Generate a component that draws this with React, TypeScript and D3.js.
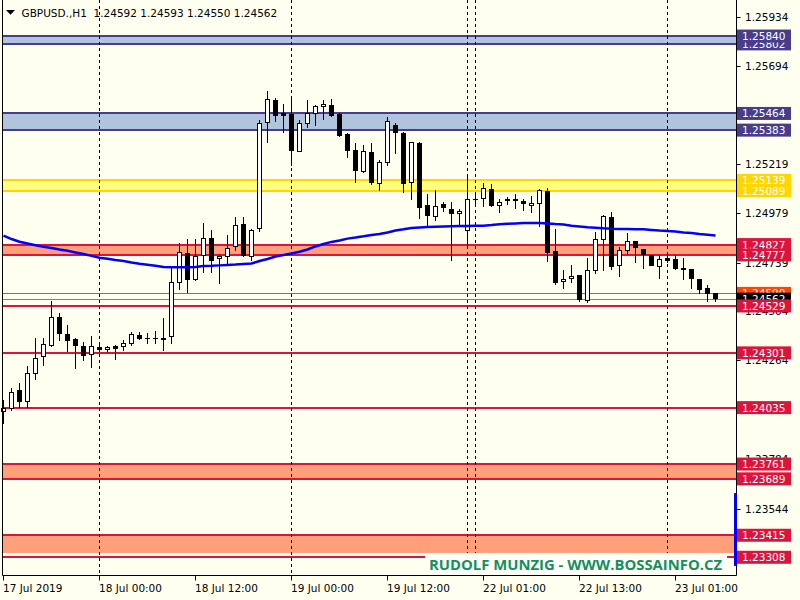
import React from 'react'
import * as d3 from 'd3'

const symbol = 'GBPUSD.,H1'

// hourly bars, 17 Jul 12:00 .. 23 Jul 06:00
const opens = [
  1.24015, 1.24027, 1.24119, 1.24064, 1.24197, 1.24279, 1.24334, 1.24474, 1.24391, 1.24368,
  1.24333, 1.24292, 1.24329, 1.24316, 1.24334, 1.24328, 1.24343, 1.24386, 1.24373, 1.24373,
  1.24362, 1.24377, 1.24639, 1.24785, 1.24655, 1.24773, 1.24858, 1.24756, 1.24765, 1.24814,
  1.24926, 1.24768, 1.24901, 1.25419, 1.25529, 1.25465, 1.25463, 1.25278, 1.25411, 1.25460,
  1.25494, 1.25505, 1.25461, 1.25364, 1.25286, 1.25181, 1.25277, 1.25123, 1.25222, 1.25408,
  1.25370, 1.25128, 1.25319, 1.25018, 1.24962, 1.25023, 1.25000, 1.24974, 1.24894, 1.25048,
  1.25047, 1.25096, 1.25016, 1.25048, 1.25048, 1.25039, 1.25016, 1.25023, 1.25087, 1.24796,
  1.24644, 1.24658, 1.24678, 1.24554, 1.24700, 1.24849, 1.24960, 1.24724, 1.24797, 1.24843,
  1.24804, 1.24776, 1.24720, 1.24760, 1.24756, 1.24713, 1.24708, 1.24660, 1.24615, 1.24592,
]
const highs = [
  1.24072, 1.24129, 1.24153, 1.24239, 1.24375, 1.24375, 1.24553, 1.24493, 1.24435, 1.24372,
  1.24352, 1.24384, 1.24344, 1.24334, 1.24339, 1.24363, 1.24402, 1.24402, 1.24396, 1.24406,
  1.24470, 1.24712, 1.24833, 1.24853, 1.24853, 1.24930, 1.24898, 1.24780, 1.24874, 1.24962,
  1.24962, 1.24904, 1.25432, 1.25573, 1.25538, 1.25510, 1.25549, 1.25432, 1.25529, 1.25505,
  1.25529, 1.25534, 1.25465, 1.25370, 1.25322, 1.25311, 1.25319, 1.25238, 1.25447, 1.25416,
  1.25375, 1.25324, 1.25324, 1.25071, 1.25092, 1.25035, 1.25032, 1.25000, 1.25160, 1.25078,
  1.25125, 1.25121, 1.25050, 1.25057, 1.25073, 1.25050, 1.25063, 1.25096, 1.25100, 1.24901,
  1.24704, 1.24728, 1.24678, 1.24760, 1.24890, 1.24971, 1.24985, 1.24817, 1.24882, 1.24843,
  1.24804, 1.24776, 1.24776, 1.24776, 1.24776, 1.24760, 1.24708, 1.24660, 1.24631, 1.24593,
]
const lows = [
  1.23955, 1.24020, 1.24032, 1.24032, 1.24169, 1.24239, 1.24331, 1.24360, 1.24307, 1.24224,
  1.24261, 1.24229, 1.24305, 1.24302, 1.24268, 1.24311, 1.24333, 1.24363, 1.24344, 1.24344,
  1.24311, 1.24343, 1.24606, 1.24590, 1.24652, 1.24688, 1.24690, 1.24637, 1.24728, 1.24797,
  1.24768, 1.24747, 1.24890, 1.25319, 1.25424, 1.25368, 1.25209, 1.25278, 1.25395, 1.25403,
  1.25432, 1.25445, 1.25348, 1.25249, 1.25128, 1.25176, 1.25116, 1.25089, 1.25210, 1.25267,
  1.25079, 1.25044, 1.24950, 1.24919, 1.24943, 1.24987, 1.24749, 1.24914, 1.24810, 1.25014,
  1.25011, 1.25011, 1.24982, 1.25018, 1.25001, 1.24989, 1.24982, 1.24914, 1.24744, 1.24631,
  1.24610, 1.24639, 1.24550, 1.24542, 1.24684, 1.24700, 1.24704, 1.24671, 1.24776, 1.24739,
  1.24708, 1.24723, 1.24658, 1.24736, 1.24704, 1.24655, 1.24611, 1.24585, 1.24548, 1.24550,
]
const closes = [
  1.24032, 1.24112, 1.24064, 1.24202, 1.24275, 1.24343, 1.24474, 1.24391, 1.24360, 1.24336,
  1.24287, 1.24333, 1.24316, 1.24329, 1.24321, 1.24347, 1.24391, 1.24370, 1.24367, 1.24367,
  1.24373, 1.24644, 1.24790, 1.24655, 1.24772, 1.24858, 1.24749, 1.24772, 1.24809, 1.24921,
  1.24773, 1.24896, 1.25416, 1.25533, 1.25453, 1.25453, 1.25283, 1.25416, 1.25465, 1.25499,
  1.25508, 1.25453, 1.25356, 1.25283, 1.25186, 1.25282, 1.25128, 1.25227, 1.25427, 1.25370,
  1.25121, 1.25324, 1.25006, 1.24967, 1.25014, 1.25006, 1.24977, 1.24990, 1.25047, 1.25047,
  1.25100, 1.25014, 1.25035, 1.25040, 1.25040, 1.25023, 1.25028, 1.25092, 1.24788, 1.24639,
  1.24658, 1.24673, 1.24558, 1.24702, 1.24853, 1.24966, 1.24720, 1.24799, 1.24843, 1.24812,
  1.24776, 1.24724, 1.24756, 1.24749, 1.24708, 1.24705, 1.24660, 1.24606, 1.24587, 1.24562,
]
// moving average (blue)
const maValues = [
  1.24871, 1.24854, 1.24841, 1.24832, 1.24824, 1.24816, 1.24810, 1.24803, 1.24797, 1.24789,
  1.24781, 1.24772, 1.24763, 1.24758, 1.24752, 1.24747, 1.24740, 1.24734, 1.24729, 1.24724,
  1.24718, 1.24717, 1.24717, 1.24717, 1.24718, 1.24723, 1.24724, 1.24726, 1.24728, 1.24730,
  1.24733, 1.24735, 1.24747, 1.24757, 1.24769, 1.24776, 1.24784, 1.24792, 1.24803, 1.24818,
  1.24830, 1.24840, 1.24847, 1.24856, 1.24861, 1.24867, 1.24874, 1.24878, 1.24886, 1.24895,
  1.24901, 1.24908, 1.24910, 1.24912, 1.24914, 1.24915, 1.24916, 1.24917, 1.24917, 1.24919,
  1.24919, 1.24922, 1.24926, 1.24928, 1.24930, 1.24932, 1.24932, 1.24932, 1.24930, 1.24927,
  1.24925, 1.24919, 1.24915, 1.24911, 1.24909, 1.24906, 1.24904, 1.24903, 1.24903, 1.24901,
  1.24901, 1.24898, 1.24895, 1.24893, 1.24890, 1.24886, 1.24883, 1.24878, 1.24875, 1.24871,
]

const priceTicks = [1.25934, 1.25694, 1.25454, 1.25219, 1.24979, 1.24739, 1.24504, 1.24264, 1.24024, 1.23784, 1.23544]
// these two sit fully behind level tags, only the tick mark shows
const hiddenTickLabels = [1.25454, 1.24024]
const timeLabels = ['17 Jul 2019', '18 Jul 00:00', '18 Jul 12:00', '19 Jul 00:00', '19 Jul 12:00', '22 Jul 01:00', '22 Jul 13:00', '23 Jul 01:00']
const labelBars = [0, 12, 24, 36, 48, 60, 72, 84]
const separatorBars = [12, 36, 58, 59, 83]

const zones = [
  { top: 1.25840, bottom: 1.25802, kind: 'blue' },
  { top: 1.25464, bottom: 1.25383, kind: 'blue' },
  { top: 1.25139, bottom: 1.25089, kind: 'gold' },
  { top: 1.24827, bottom: 1.24777, kind: 'red' },
  { top: 1.23761, bottom: 1.23689, kind: 'red' },
  { top: 1.23415, bottom: 1.23329, kind: 'red' },
]
const levels = [
  { price: 1.25802, kind: 'blue' },
  { price: 1.25840, kind: 'blue' },
  { price: 1.25464, kind: 'blue' },
  { price: 1.25383, kind: 'blue' },
  { price: 1.25139, kind: 'gold' },
  { price: 1.25089, kind: 'gold' },
  { price: 1.24827, kind: 'red' },
  { price: 1.24777, kind: 'red' },
  { price: 1.24529, kind: 'red' },
  { price: 1.24301, kind: 'red' },
  { price: 1.24035, kind: 'red' },
  { price: 1.23761, kind: 'red' },
  { price: 1.23689, kind: 'red' },
  { price: 1.23415, kind: 'red' },
  { price: 1.23308, kind: 'red' },
]
const askPrice = 1.24590
const bidPrice = 1.24562
const spreadRange = [1.23620, 1.23266]

const palette: any = {
  blue: { line: '#483D8B', fill: '#B0C4DE' },
  gold: { line: '#FFD700', fill: '#FFFF80' },
  red: { line: '#DC143C', fill: '#FFA07A' },
}

const font = '"DejaVu Sans", Verdana, sans-serif'

const App = () => {
  const left = 2.5
  const right = 736.5
  const bottom = 575.5

  const x = d3.scaleLinear().domain([0, 89]).range([3.5, 715.5])
  const y = d3.scaleLinear().domain([1.23544, 1.25934]).range([508.7, 16.7])
  const py = (p: number) => Math.round(y(p))

  const maLine = d3.line<number>().x((_, i) => x(i)).y(d => y(d))(maValues)

  const tag = (price: number, bg: string, key: string) => {
    const cy = y(price)
    return (
      <g key={key}>
        <rect x={737} y={cy - 6.5} width={54} height={13} fill={bg} />
        <text x={742} y={cy + 4} fill="#fff" fontSize={10.5} fontFamily={font}>{price.toFixed(5)}</text>
      </g>
    )
  }

  const upperTags = levels.filter(l => l.price > bidPrice)
  const lowerTags = levels.filter(l => l.price < bidPrice)

  return (
    <div style={{ position: 'fixed', left: 0, top: 0 }}>
      <svg width={800} height={600} style={{ display: 'block', background: '#FFFFF0' }}>
        <rect width={800} height={600} fill="#FFFFF0" />

        {zones.map((z, i) => (
          <rect key={'z' + i} x={left} width={right - left} y={y(z.top)} height={y(z.bottom) - y(z.top)} fill={palette[z.kind].fill} />
        ))}
        {levels.map((l, i) => (
          <line key={'l' + i} x1={left} x2={right} y1={py(l.price)} y2={py(l.price)} stroke={palette[l.kind].line} strokeWidth={2} />
        ))}

        {separatorBars.map(b => (
          <line key={'s' + b} x1={x(b)} x2={x(b)} y1={0} y2={bottom} stroke="#000" strokeWidth={1} strokeDasharray="3,3" />
        ))}

        <line x1={left} x2={right} y1={py(askPrice) + 0.5} y2={py(askPrice) + 0.5} stroke="#FF4500" strokeWidth={1} />
        <line x1={left} x2={right} y1={py(bidPrice) + 0.5} y2={py(bidPrice) + 0.5} stroke="#808080" strokeWidth={1} />

        {opens.map((o, i) => {
          const c = closes[i]
          const cx = x(i)
          const top = Math.round(y(Math.max(o, c)))
          const h = Math.max(1, Math.round(y(Math.min(o, c))) - top)
          const bull = c > o
          return (
            <g key={'c' + i}>
              <line x1={cx} x2={cx} y1={Math.round(y(highs[i]))} y2={Math.round(y(lows[i]))} stroke="#000" strokeWidth={1} />
              {bull ? (
                <rect x={cx - 2} y={top + 0.5} width={4} height={Math.max(h - 1, 0)} fill="#fff" stroke="#000" strokeWidth={1} />
              ) : (
                <rect x={cx - 2.5} y={top} width={5} height={Math.max(h, 1)} fill="#000" />
              )}
            </g>
          )
        })}

        <path d={maLine || ''} fill="none" stroke="#0000FF" strokeWidth={2.5} />

        {/* frame */}
        <line x1={left} x2={left} y1={0} y2={bottom} stroke="#000" />
        <line x1={right} x2={right} y1={0} y2={bottom} stroke="#000" />
        <line x1={left} x2={right} y1={bottom} y2={bottom} stroke="#000" />

        {/* watermark */}
        <rect x={425} y={553} width={302} height={22} fill="#FFFFF8" />
        <text x={429} y={570} fill="#12905e" fontSize={15} fontWeight="bold" fontFamily='"Open Sans", sans-serif'
          textLength={293} lengthAdjust="spacingAndGlyphs">RUDOLF MUNZIG - WWW.BOSSAINFO.CZ</text>

        {/* spread bar */}
        <rect x={734} y={y(spreadRange[0])} width={3} height={y(spreadRange[1]) - y(spreadRange[0])} fill="#0000FF" />

        {/* price axis */}
        {priceTicks.map(t => (
          <g key={'t' + t}>
            <line x1={right} x2={right + 4} y1={py(t) + 0.5} y2={py(t) + 0.5} stroke="#000" />
            {!hiddenTickLabels.includes(t) && (
              <text x={745} y={y(t) + 4} fontSize={10.5} fontFamily={font} fill="#000">{t.toFixed(5)}</text>
            )}
          </g>
        ))}
        {upperTags.map((l, i) => tag(l.price, palette[l.kind].line, 'u' + i))}
        {tag(askPrice, '#FF4500', 'ask')}
        {tag(bidPrice, '#000000', 'bid')}
        {lowerTags.map((l, i) => tag(l.price, palette[l.kind].line, 'd' + i))}

        {/* time axis */}
        {labelBars.map((b, i) => (
          <g key={'x' + b}>
            <line x1={x(b)} x2={x(b)} y1={bottom} y2={bottom + 5} stroke="#000" />
            <text x={x(b) - 0.5} y={591.5} fontSize={10.5} fontFamily={font} fill="#000">{timeLabels[i]}</text>
          </g>
        ))}

        {/* title */}
        <polygon points="6,10 15,10 10.5,14.7" fill="#000" />
        <text x={21.5} y={16.7} fontSize={10.5} fontFamily={font} fill="#000" xmlSpace="preserve">
          {symbol + '  ' + [opens[89], highs[89], lows[89], closes[89]].map(v => v.toFixed(5)).join(' ')}
        </text>
      </svg>
    </div>
  )
}

export default App
